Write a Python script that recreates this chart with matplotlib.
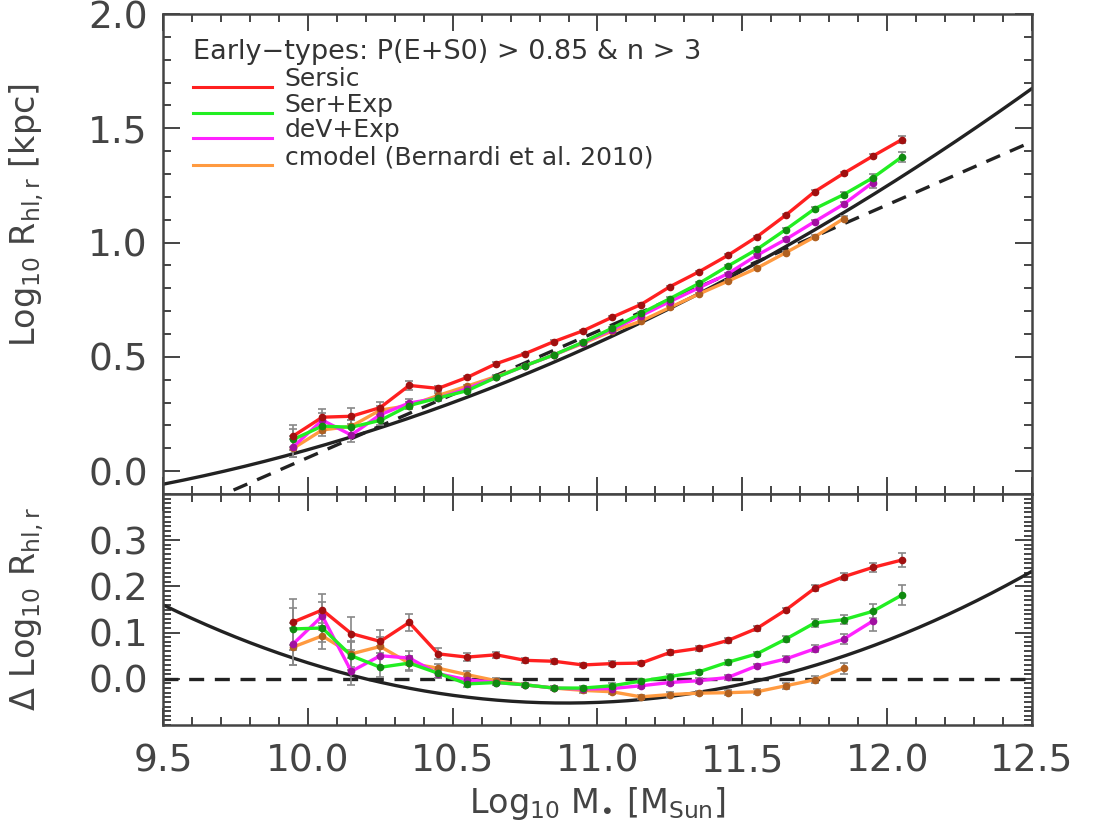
import numpy as np
import matplotlib
matplotlib.use("Agg")
import matplotlib.pyplot as plt
from matplotlib.ticker import MultipleLocator

plt.rcParams['font.family'] = ['DejaVu Sans']
plt.rcParams['mathtext.fontset'] = 'dejavusans'

# ---------------- data ----------------
mass_bins = [9.95, 10.05, 10.15, 10.25, 10.35, 10.45, 10.55, 10.65, 10.75, 10.85,
             10.95, 11.05, 11.15, 11.25, 11.35, 11.45, 11.55, 11.65, 11.75, 11.85,
             11.95, 12.05]

# top panel: log10 R_hl,r [kpc]
sersic_r = [0.154, 0.236, 0.240, 0.278, 0.375, 0.362, 0.410, 0.470, 0.514, 0.567,
            0.614, 0.673, 0.729, 0.807, 0.872, 0.944, 1.025, 1.120, 1.223, 1.303,
            1.378, 1.450]
serexp_r = [0.139, 0.197, 0.192, 0.222, 0.287, 0.320, 0.352, 0.410, 0.461, 0.509,
            0.564, 0.625, 0.690, 0.755, 0.821, 0.897, 0.970, 1.057, 1.148, 1.210,
            1.283, 1.374]
devexp_r = [0.107, 0.223, 0.158, 0.247, 0.298, 0.319, 0.361, 0.410, 0.461, 0.509,
            0.562, 0.619, 0.680, 0.742, 0.802, 0.864, 0.944, 1.014, 1.092, 1.168,
            1.262]
cmodel_r = [0.100, 0.180, 0.196, 0.267, 0.287, 0.331, 0.372, 0.414, 0.461, 0.509,
            0.559, 0.612, 0.656, 0.716, 0.775, 0.831, 0.888, 0.956, 1.025, 1.105]

# bottom panel: residual with respect to the dashed relation
sersic_d = [0.123, 0.149, 0.098, 0.081, 0.122, 0.054, 0.047, 0.052, 0.040, 0.038,
            0.030, 0.033, 0.034, 0.057, 0.066, 0.083, 0.109, 0.149, 0.196, 0.221,
            0.241, 0.257]
serexp_d = [0.108, 0.110, 0.050, 0.025, 0.034, 0.012, -0.011, -0.008, -0.013, -0.020,
            -0.020, -0.015, -0.005, 0.005, 0.015, 0.036, 0.054, 0.086, 0.121, 0.128,
            0.146, 0.181]
devexp_d = [0.076, 0.136, 0.016, 0.050, 0.045, 0.011, -0.002, -0.008, -0.013, -0.020,
            -0.022, -0.021, -0.015, -0.008, -0.004, 0.003, 0.028, 0.043, 0.065, 0.086,
            0.125]
cmodel_d = [0.069, 0.093, 0.054, 0.070, 0.034, 0.023, 0.009, -0.004, -0.013, -0.020,
            -0.025, -0.028, -0.039, -0.034, -0.031, -0.030, -0.028, -0.015, -0.002, 0.023]

# error bars
sersic_e = [0.050, 0.035, 0.035, 0.025, 0.018, 0.012, 0.008, 0.006, 0.005, 0.005,
            0.005, 0.005, 0.005, 0.005, 0.005, 0.005, 0.005, 0.005, 0.006, 0.007,
            0.010, 0.015]
serexp_e = [0.045, 0.030, 0.030, 0.022, 0.016, 0.010, 0.007, 0.005, 0.005, 0.005,
            0.005, 0.005, 0.005, 0.005, 0.005, 0.005, 0.005, 0.006, 0.008, 0.010,
            0.015, 0.022]
devexp_e = [0.045, 0.030, 0.030, 0.022, 0.016, 0.010, 0.007, 0.005, 0.005, 0.005,
            0.005, 0.005, 0.005, 0.005, 0.005, 0.005, 0.005, 0.006, 0.008, 0.010,
            0.022]
cmodel_e = [0.040, 0.028, 0.028, 0.020, 0.015, 0.010, 0.007, 0.005, 0.005, 0.005,
            0.005, 0.005, 0.005, 0.005, 0.005, 0.005, 0.005, 0.006, 0.008, 0.012]

series_labels = ["Sersic", "Ser+Exp", "deV+Exp", "cmodel (Bernardi et al. 2010)"]
series_colors = ["#ff2020", "#22ee22", "#ff22ff", "#ff9a40"]
marker_colors = ["#a01010", "#108a10", "#a010a0", "#b06020"]
legend_title = "Early\u2212types: P(E+S0) > 0.85 & n > 3"

# reference relations (dashed: linear; solid: dashed + quadratic offset)
dashed_slope, dashed_pivot, dashed_zero = 0.553, 11.0, 0.612
quad_amp, quad_root1, quad_root2 = 0.11, 10.20, 11.58

x_ticks = [9.5, 10.0, 10.5, 11.0, 11.5, 12.0, 12.5]
top_yticks = [0.0, 0.5, 1.0, 1.5, 2.0]
bot_yticks = [0.0, 0.1, 0.2, 0.3]

# ---------------- figure ----------------
fig = plt.figure(figsize=(10.93, 8.24), dpi=100)
ax1 = fig.add_axes([0.1491, 0.4005, 0.7951, 0.5825])
ax2 = fig.add_axes([0.1491, 0.1201, 0.7951, 0.2804], sharex=ax1)

xm = np.linspace(9.5, 12.5, 300)
dashed = dashed_slope * (xm - dashed_pivot) + dashed_zero
offset = quad_amp * (xm - quad_root1) * (xm - quad_root2)

ax1.plot(xm, dashed + offset, color="#222222", lw=2.4, zorder=2)
ax1.plot(xm, dashed, color="#222222", lw=2.4, ls=(0, (4.5, 3.2)), zorder=2)
ax2.plot(xm, offset, color="#222222", lw=2.4, zorder=2)
ax2.axhline(0.0, color="#222222", lw=2.4, ls=(0, (4.5, 3.2)), zorder=2)

tops = [sersic_r, serexp_r, devexp_r, cmodel_r]
bots = [sersic_d, serexp_d, devexp_d, cmodel_d]
errs = [sersic_e, serexp_e, devexp_e, cmodel_e]
order = [3, 2, 1, 0]
for i in order:
    n = len(tops[i])
    xs = mass_bins[:n]
    for ax, ys in ((ax1, tops[i]), (ax2, bots[i])):
        ax.errorbar(xs, ys, yerr=errs[i], fmt='none', ecolor="#888888",
                    elinewidth=1.2, capsize=3, capthick=1.2, zorder=3)
        ax.plot(xs, ys, color=series_colors[i], lw=2.4, zorder=4 + (3 - i))
        ax.plot(xs, ys, ls='none', marker='o', ms=4.5,
                mfc=marker_colors[i], mec=marker_colors[i], zorder=8)

ax1.set_xlim(9.5, 12.5)
ax1.set_ylim(-0.1, 2.0)
ax2.set_ylim(-0.1, 0.4)

for ax in (ax1, ax2):
    ax.set_xticks(x_ticks)
    ax.xaxis.set_minor_locator(MultipleLocator(0.1))
    ax.tick_params(which='both', direction='in', top=True, right=True,
                   color="#444444", labelcolor="#444444", labelsize=27)
    ax.tick_params(which='major', length=12, width=1.4)
    ax.tick_params(which='minor', length=6, width=1.4)
    ax.tick_params(axis='y', pad=11)
    for sp in ax.spines.values():
        sp.set_linewidth(1.8)
        sp.set_color("#444444")

ax1.set_yticks(top_yticks)
ax1.yaxis.set_minor_locator(MultipleLocator(0.1))
ax1.set_yticklabels(["%.1f" % v for v in top_yticks])
ax1.tick_params(axis='x', labelbottom=False)

ax2.set_yticks(bot_yticks)
ax2.yaxis.set_minor_locator(MultipleLocator(0.01))
ax2.set_yticklabels(["%.1f" % v for v in bot_yticks])
ax2.set_xticklabels(["%.1f" % v for v in x_ticks])
ax2.tick_params(axis='x', pad=13)

ax1.set_ylabel(r"Log$_{10}$ R$_{\rm hl,r}$ [kpc]", fontsize=24, color="#444444")
ax1.yaxis.set_label_coords(-0.135, 0.58)
ax2.set_ylabel(r"$\Delta$ Log$_{10}$ R$_{\rm hl,r}$", fontsize=24, color="#444444")
ax2.yaxis.set_label_coords(-0.135, 0.50)
ax2.set_xlabel(r"Log$_{10}$ M$_{\bullet}$ [M$_{\rm Sun}$]", fontsize=24,
               color="#444444", labelpad=4)

# legend drawn by hand (title + coloured lines)
ax1.text(0.035, 0.921, legend_title, transform=ax1.transAxes, fontsize=19.5,
         color="#333333", va='center', ha='left')
ly = [0.848, 0.794, 0.742, 0.685]
for i in range(4):
    ax1.plot([0.035, 0.125], [ly[i], ly[i]], transform=ax1.transAxes,
             color=series_colors[i], lw=2.2)
    ax1.text(0.140, ly[i] + 0.016, series_labels[i], transform=ax1.transAxes,
             fontsize=18, color="#333333", va='center', ha='left')

fig.savefig("out.png", dpi=100)
